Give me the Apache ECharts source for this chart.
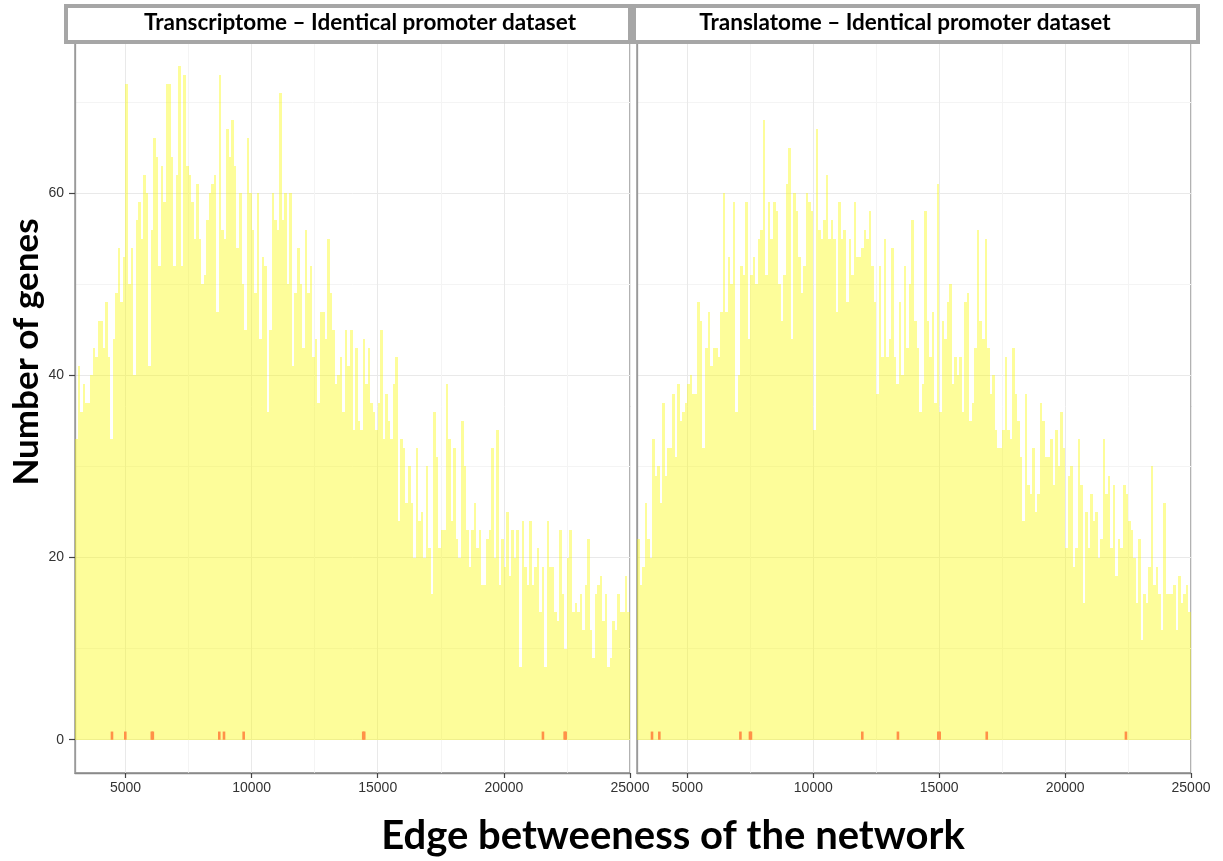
<!DOCTYPE html>
<html><head><meta charset="utf-8">
<script src="https://cdn.jsdelivr.net/npm/echarts@6/dist/echarts.min.js"></script>
<style>html,body{margin:0;padding:0;background:#fff}#c{width:1223px;height:861px}</style>
</head><body><div id="c"></div>
<script>
// ---- data ----
const binStart = 3000;
const binWidth = 100;
const transcriptome = [
33,41,36,39,37,37,40,43,42,46,46,43,48,42,33,44,49,54,48,53,72,50,54,40,57,59,55,62,60,41,56,66,64,52,63,59,72,72,64,52,62,74,52,73,63,62,59,55,61,55,50,51,57,60,61,62,47,73,56,55,67,64,68,63,54,60,50,45,66,60,56,49,60,
44,53,52,36,45,60,57,56,71,57,60,50,60,41,49,54,50,43,56,49,52,42,44,37,47,47,44,55,49,45,39,40,42,36,45,41,45,34,43,35,34,44,39,43,37,36,34,37,45,33,38,35,33,39,42,24,33,32,26,30,26,20,32,24,25,20,30,21,16,36,31,21,23,
23,39,33,24,32,22,20,35,30,23,19,23,26,21,23,17,17,22,23,32,20,34,17,22,19,25,18,23,20,23,8,24,19,17,24,17,19,21,14,19,8,24,19,19,14,13,23,16,10,20,23,14,15,14,16,12,17,22,12,9,16,17,18,13,16,8,9,13,12,16,14,14,18,14
];
const translatome = [
22,17,19,26,22,20,33,29,30,26,37,29,32,32,38,31,39,35,36,37,39,40,38,38,48,46,32,43,47,41,43,43,42,47,60,47,53,50,59,36,40,52,51,59,44,51,53,50,55,56,68,51,59,55,59,58,50,46,51,61,65,44,60,58,53,49,52,60,59,58,34,67,56,
55,57,62,55,57,55,47,59,55,56,48,55,51,59,53,53,54,56,55,58,52,48,38,52,42,55,42,44,54,42,39,48,40,52,43,50,57,46,43,36,39,58,46,42,47,37,61,36,46,44,48,50,39,42,40,42,36,48,49,35,37,43,56,46,44,55,43,38,40,34,32,32,34,42,
34,33,43,38,35,31,24,38,28,27,32,25,27,37,35,31,31,33,28,34,30,36,32,21,29,30,19,21,33,28,15,25,21,27,24,25,20,22,33,27,29,21,28,18,22,21,28,27,24,23,20,15,22,11,16,15,19,30,17,19,16,12,26,16,16,16,17,12,18,15,16,17,14
];
const rugTranscriptome = [4466, 4994, 6045, 6085, 8719, 8906, 9686, 14425, 14465, 21549, 22410, 22450];
const rugTranslatome = [3596, 3887, 7107, 7485, 7525, 11946, 13362, 14965, 15020, 16889, 22416];
const panelTitles = ['Transcriptome \u2013 Identical promoter dataset', 'Translatome \u2013 Identical promoter dataset'];
const xTitle = 'Edge betweeness of the network';
const yTitle = 'Number of genes';
const xMin = 3000, xMax = 25000;
const yMin = -3.65, yMax = 76.8;

// ---- chart ----
const BAR_FILL = 'rgba(250,250,10,0.41)';
const RUG_FILL = '#FF9148';
function histData(vals) {
  return vals.map((v, i) => [binStart + i * binWidth, binStart + (i + 1) * binWidth, v]);
}
function renderBar(params, api) {
  const p0 = api.coord([api.value(0), 0]);
  const p1 = api.coord([api.value(1), api.value(2)]);
  const x0 = Math.round(p0[0]), x1 = Math.round(p1[0]);
  const y0 = Math.round(p0[1]), y1 = Math.round(p1[1]);
  return { type: 'rect', shape: { x: x0, y: y1, width: x1 - x0, height: y0 - y1 }, style: { fill: BAR_FILL } };
}
function renderRug(params, api) {
  const p0 = api.coord([api.value(0), 0]);
  const p1 = api.coord([api.value(0), 0.9]);
  return { type: 'rect', shape: { x: p0[0] - 1.3, y: p1[1], width: 2.6, height: p0[1] - p1[1] }, style: { fill: RUG_FILL } };
}
const tickFont = { color: '#333', fontSize: 14, fontFamily: 'Liberation Sans, Arial, sans-serif' };
function xAxisCfg(gi) {
  return {
    type: 'value', gridIndex: gi, min: xMin, max: xMax, splitNumber: 4, position: 'bottom',
    axisLine: { show: true, onZero: false, lineStyle: { color: '#8a8a8a', width: 1.3 } },
    axisTick: { show: true, inside: false, length: 5, lineStyle: { color: '#444', width: 1.2 } },
    axisLabel: Object.assign({ showMinLabel: false, showMaxLabel: true, margin: 8, formatter: v => String(v) }, tickFont),
    splitLine: { show: true, lineStyle: { color: '#E9E9E9', width: 1 } },
    minorTick: { show: false, splitNumber: 2 },
    minorSplitLine: { show: true, lineStyle: { color: '#F4F4F4', width: 1 } }
  };
}
function yAxisCfg(gi, labels) {
  return {
    type: 'value', gridIndex: gi, min: yMin, max: yMax, splitNumber: 4, position: 'left',
    axisLine: { show: true, onZero: false, lineStyle: { color: '#9a9a9a', width: 1.3 } },
    axisTick: { show: labels, inside: false, length: 6, lineStyle: { color: '#444', width: 1.2 } },
    axisLabel: Object.assign({ show: labels, showMinLabel: false, showMaxLabel: false, margin: 11, formatter: v => String(v) }, tickFont),
    splitLine: { show: true, lineStyle: { color: '#E9E9E9', width: 1 } },
    minorTick: { show: false, splitNumber: 2 },
    minorSplitLine: { show: true, lineStyle: { color: '#F4F4F4', width: 1 } }
  };
}
const chart = echarts.init(document.getElementById('c'), null, { renderer: 'canvas' });
const stripFont = { fontFamily: 'Lato, sans-serif', fontWeight: 'bold', fontSize: 22.5, fill: '#000' };
chart.setOption({
  animation: false,
  backgroundColor: '#fff',
  grid: [
    { left: 75, top: 40, width: 555, height: 733, outerBoundsMode: 'none', containLabel: false, show: true, borderColor: '#8a8a8a', borderWidth: 1.3, backgroundColor: '#fff' },
    { left: 637, top: 40, width: 554, height: 733, outerBoundsMode: 'none', containLabel: false, show: true, borderColor: '#8a8a8a', borderWidth: 1.3, backgroundColor: '#fff' }
  ],
  xAxis: [xAxisCfg(0), xAxisCfg(1)],
  yAxis: [yAxisCfg(0, true), yAxisCfg(1, false)],
  series: [
    { type: 'custom', xAxisIndex: 0, yAxisIndex: 0, data: histData(transcriptome), encode: { x: [0, 1], y: 2 }, renderItem: renderBar, silent: true, clip: true },
    { type: 'custom', xAxisIndex: 1, yAxisIndex: 1, data: histData(translatome), encode: { x: [0, 1], y: 2 }, renderItem: renderBar, silent: true, clip: true },
    { type: 'custom', xAxisIndex: 0, yAxisIndex: 0, data: rugTranscriptome.map(v => [v]), encode: { x: 0 }, renderItem: renderRug, silent: true, z: 5 },
    { type: 'custom', xAxisIndex: 1, yAxisIndex: 1, data: rugTranslatome.map(v => [v]), encode: { x: 0 }, renderItem: renderRug, silent: true, z: 5 }
  ],
  graphic: [
    { type: 'rect', left: 64, top: 4, shape: { width: 564, height: 36 }, style: { fill: '#fff', stroke: '#A6A6A6', lineWidth: 4 }, z: 10 },
    { type: 'rect', left: 632, top: 4, shape: { width: 564, height: 36 }, style: { fill: '#fff', stroke: '#A6A6A6', lineWidth: 4 }, z: 10 },
    { type: 'text', x: 360, y: 23, style: Object.assign({ text: panelTitles[0], textAlign: 'center', textVerticalAlign: 'middle' }, stripFont), z: 11 },
    { type: 'text', x: 905, y: 23, style: Object.assign({ text: panelTitles[1], textAlign: 'center', textVerticalAlign: 'middle' }, stripFont), z: 11 },
    { type: 'text', x: 673, y: 836, style: { text: xTitle, textAlign: 'center', textVerticalAlign: 'middle', fontFamily: 'Lato, sans-serif', fontWeight: 'bold', fontSize: 40, fill: '#000' }, z: 11 },
    { type: 'text', x: 27, y: 352, rotation: Math.PI / 2, style: { text: yTitle, textAlign: 'center', textVerticalAlign: 'middle', fontFamily: 'Lato, sans-serif', fontWeight: 'bold', fontSize: 35, fill: '#000' }, z: 11 }
  ]
});
</script></body></html>
